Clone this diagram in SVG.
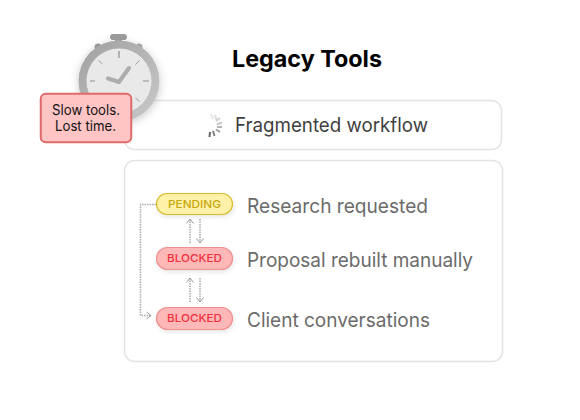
<svg xmlns="http://www.w3.org/2000/svg" width="580" height="420" viewBox="0 0 580 420">
<style>
.card{fill:#fff;stroke:#e4e4e4;stroke-width:1.5}
text{font-family:Inter,"Liberation Sans",sans-serif}
.lab{font-size:20px;fill:#6b6b6b}
.pill{font-size:11px;font-weight:500;text-anchor:middle}
.blocked{fill:#ffb8b8;stroke:#ec9090;stroke-width:1.2}
.dash{fill:none;stroke:#aeaeae;stroke-width:1.600;stroke-dasharray:1.500 1}
.spin{stroke-width:2;stroke-linecap:butt}
</style>
<defs>
<linearGradient id="ring" x1="0" y1="0" x2="1" y2="1"><stop offset="0" stop-color="#a0a0a0"/><stop offset="1" stop-color="#cacaca"/></linearGradient>
<filter id="sh" x="-30%" y="-30%" width="160%" height="160%"><feDropShadow dx="0" dy="2" stdDeviation="4" flood-color="#000" flood-opacity=".22"/></filter>
<filter id="ps" x="-20%" y="-30%" width="140%" height="170%"><feDropShadow dx="1" dy="2" stdDeviation="2" flood-color="#000" flood-opacity=".1"/></filter>
<marker id="a" markerUnits="userSpaceOnUse" markerWidth="9" markerHeight="10" refX="6" refY="5" orient="auto"><path d="M1.500 1.500L6 5L1.500 8.500" fill="none" stroke="#9a9a9a" stroke-width="1"/></marker>
</defs>
<g id="card-top"><rect class="card" x="124.500" y="100.500" width="377" height="49" rx="10"/></g>
<g id="card-main"><rect class="card" x="124.500" y="160.500" width="378" height="201" rx="10"/></g>
<g id="clock">
<rect x="110" y="34" width="17" height="6" rx="3" fill="#9d9d9d"/>
<rect x="115" y="38" width="7" height="6" fill="#a2a2a2"/>
<circle cx="98" cy="47" r="3.500" fill="#a0a0a0"/>
<circle cx="139" cy="47" r="3.500" fill="#b0b0b0"/>
<circle cx="119" cy="81" r="40.500" fill="url(#ring)" filter="url(#sh)"/>
<circle cx="119" cy="81" r="32.500" fill="#e9e9e9"/>
<g stroke="#8f8f8f" stroke-width="1"><path d="M119 51v7M90 81h5M143 81h6" stroke-width="1.200"/><path d="M98.500 60.500l4 3.500M139.500 60.500l-4 4M139.500 101.500l-4 -3.500" stroke="#a0a0a0"/></g>
<path d="M108 78.500L119 82L129 68" fill="none" stroke="#adadad" stroke-width="4" stroke-linecap="round" stroke-linejoin="round"/>
</g>
<g id="title"><text x="232" y="67" font-size="23" font-weight="700" fill="#000" textLength="150" lengthAdjust="spacingAndGlyphs">Legacy Tools</text></g>
<g id="spinner">
<g class="spin">
<line x1="210.500" y1="114" x2="213" y2="119" stroke="#e8e8e8"/>
<line x1="215" y1="115" x2="216.500" y2="120" stroke="#dcdcdc"/>
<line x1="216" y1="121" x2="220" y2="118" stroke="#d0d0d0"/>
<line x1="217" y1="124" x2="222" y2="123" stroke="#c4c4c4"/>
<line x1="217" y1="127" x2="222" y2="127" stroke="#b4b4b4"/>
<line x1="216" y1="129.500" x2="220" y2="132" stroke="#9c9c9c"/>
<line x1="213" y1="131" x2="214.500" y2="136" stroke="#808080"/>
<line x1="210" y1="132" x2="209.500" y2="137" stroke="#666"/>
</g>
</g>
<g id="workflow-label"><text x="235" y="132" font-size="20" fill="#3f3f3f" textLength="193" lengthAdjust="spacingAndGlyphs">Fragmented workflow</text></g>
<g id="connectors">
<path class="dash" d="M156 204.500H140.500V315.500H151" marker-end="url(#a)"/>
<path class="dash" d="M190 243V219" marker-end="url(#a)"/>
<path class="dash" d="M200 219V243" marker-end="url(#a)"/>
<path class="dash" d="M190 302V278" marker-end="url(#a)"/>
<path class="dash" d="M200 278V302" marker-end="url(#a)"/>
</g>
<g id="pending">
<rect x="156.500" y="193.500" width="76" height="21" rx="10.500" fill="#fff2a8" stroke="#d8bc2c" stroke-width="1.200" filter="url(#ps)"/>
<text class="pill" x="194.500" y="208" fill="#c9a80e" textLength="53" lengthAdjust="spacingAndGlyphs">PENDING</text>
<text class="lab" x="247" y="212.500" textLength="181" lengthAdjust="spacingAndGlyphs">Research requested</text>
</g>
<g id="blocked-1">
<rect class="blocked" x="156.500" y="247.500" width="76" height="22" rx="11" filter="url(#ps)"/>
<text class="pill" x="194.500" y="262" fill="#f0323c" textLength="55" lengthAdjust="spacingAndGlyphs">BLOCKED</text>
<text class="lab" x="247" y="266.500" textLength="226" lengthAdjust="spacingAndGlyphs">Proposal rebuilt manually</text>
</g>
<g id="blocked-2">
<rect class="blocked" x="156.500" y="307.500" width="76" height="22" rx="11" filter="url(#ps)"/>
<text class="pill" x="194.500" y="322" fill="#f0323c" textLength="55" lengthAdjust="spacingAndGlyphs">BLOCKED</text>
<text class="lab" x="247" y="326.500" textLength="183" lengthAdjust="spacingAndGlyphs">Client conversations</text>
</g>
<g id="callout">
<rect x="40.750" y="93.750" width="90.500" height="48.500" rx="5" fill="#ffc4c4" stroke="#e06a6a" stroke-width="2"/>
<text x="52" y="115" font-size="14" fill="#111" textLength="68" lengthAdjust="spacingAndGlyphs">Slow tools.</text>
<text x="55" y="130.500" font-size="14" fill="#111" textLength="61" lengthAdjust="spacingAndGlyphs">Lost time.</text>
</g>
</svg>
